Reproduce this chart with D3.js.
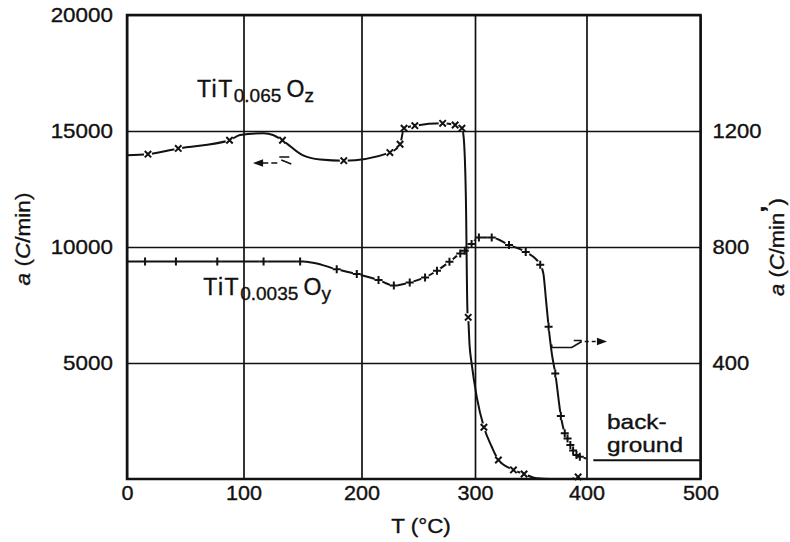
<!DOCTYPE html>
<html>
<head>
<meta charset="utf-8">
<script src="https://cdn.jsdelivr.net/npm/d3@7/dist/d3.min.js"></script>
<style>
  body { margin: 0; background: #fff; }
  svg { display: block; font-family: "Liberation Sans", Arial, Helvetica, sans-serif; }
  text { stroke: #111; stroke-width: 0.35px; }
</style>
</head>
<body>
<svg id="chart" width="790" height="542"></svg>
<script>
// ---- axis ticks ----
const tempTicks = [0, 100, 200, 300, 400, 500];          // T (°C)
const leftTicks = [5000, 10000, 15000, 20000];           // a (C/min), TiT0.065 Oz
const rightTicks = [400, 800, 1200];                      // a (C/min), TiT0.0035 Oy

// ---- TiT0.065 Oz : measured points (×), left axis ----
const ozT = [18, 44, 88, 133, 185, 225, 234, 237.5, 247, 271.5, 282.5, 288.5, 294, 308, 321, 334.5, 344, 392.5];
const ozA = [14000, 14250, 14600, 14600, 13720, 14070, 14430, 15120, 15230, 15330, 15260, 15120, 6970, 2230, 820, 390, 215, 90];

// hand-drawn trend through the Oz points
const ozLineT = [0, 18, 44, 88, 97, 117, 125, 133, 150, 165, 185, 225, 234, 237.5, 247, 271.5, 282.5, 288.5, 290, 292, 293.4, 294, 295.2, 297, 301.5, 308, 315, 321, 334.5, 344, 355.5, 367.5, 385, 392.5];
const ozLineA = [13960, 14000, 14250, 14600, 14830, 14900, 14830, 14600, 13960, 13770, 13720, 14070, 14430, 15120, 15230, 15330, 15260, 15120, 14740, 12030, 7160, 6970, 5780, 4990, 3550, 2230, 1390, 820, 390, 215, 30, 0, 0, 90];

// ---- TiT0.0035 Oy : measured points (+), right axis ----
const oyT = [15.5, 42, 77.5, 117, 148, 179, 196, 215, 228.5, 242.5, 256, 266.5, 277.5, 287, 291, 297, 303.5, 315, 330.5, 345.5, 358.5, 366, 372, 377, 380.5, 383, 385.5, 388, 391, 394];
const oyA = [750, 750, 750, 750, 750, 723, 707, 686, 667, 678, 695, 718, 749, 778, 787, 810, 833, 833, 807, 783, 739, 525, 364, 217, 158, 140, 117, 98, 83, 77];

// hand-drawn trend through the Oy points
const oyLineT = [0, 15.5, 42, 77.5, 117, 148, 160, 179, 196, 215, 228.5, 242.5, 256, 266.5, 277.5, 287, 291, 297, 303.5, 315, 330.5, 345.5, 358.5, 361.3, 363.7, 366, 369, 372, 377, 380.5, 383, 385.5, 388, 391, 394, 400];
const oyLineA = [750, 750, 750, 750, 750, 750, 745, 723, 707, 686, 667, 678, 695, 718, 749, 778, 787, 810, 833, 833, 807, 783, 739, 709, 617, 525, 430, 364, 217, 158, 140, 117, 98, 83, 77, 71];

// background count rate (right axis)
const bgT = [406, 500];
const bgA = [65, 65];

// ---- layout ----
const svg = d3.select("#chart");
const L = 127, R = 700.5, T = 15, B = 479;
const ink = "#111";

// the printed temperature grid is not perfectly even, so the scale follows it piecewise
const x = d3.scaleLinear().domain(tempTicks).range([L, 243.5, 361.5, 475, 586.5, R]);
const yL = d3.scaleLinear().domain([0, 20000]).range([B, T]);
const yR = d3.scaleLinear().domain([0, 1600]).range([B, T]);

function styleAxis(g, sx) {
  g.attr("font-family", null).attr("font-size", null);
  g.select(".domain").remove();
  g.selectAll(".tick line").attr("stroke", ink).attr("stroke-width", 1.7);
  g.selectAll(".tick text").attr("fill", ink).attr("font-size", 20)
    .attr("transform", `scale(${sx},1)`);
}

// vertical grid + T labels
svg.append("g").attr("transform", `translate(0,${B})`)
  .call(d3.axisBottom(x).tickValues(tempTicks).tickSize(-(B - T)).tickPadding(7).tickFormat(d3.format("d")))
  .call(g => styleAxis(g, 1.08));

// horizontal grid + left labels
svg.append("g").attr("transform", `translate(${L},0)`)
  .call(d3.axisLeft(yL).tickValues(leftTicks).tickSize(-(R - L)).tickPadding(12.6).tickFormat(d3.format("d")))
  .call(g => styleAxis(g, 1.12));

// right labels
svg.append("g").attr("transform", `translate(${R},0)`)
  .call(d3.axisRight(yR).tickValues(rightTicks).tickSize(0).tickPadding(11).tickFormat(d3.format("d")))
  .call(g => styleAxis(g, 1.1));

// frame
svg.append("rect").attr("x", L).attr("y", T).attr("width", R - L).attr("height", B - T)
  .attr("fill", "none").attr("stroke", ink).attr("stroke-width", 2.5);

// ---- series ----
const defs = svg.append("defs");
function gapMask(id, pts) {
  const m = defs.append("mask").attr("id", id).attr("maskUnits", "userSpaceOnUse")
    .attr("x", 0).attr("y", 0).attr("width", 790).attr("height", 542);
  m.append("rect").attr("width", 790).attr("height", 542).attr("fill", "#fff");
  m.selectAll("circle").data(pts).join("circle")
    .attr("cx", d => d[0]).attr("cy", d => d[1]).attr("r", 4).attr("fill", "#000");
}

function drawSeries(id, lt, la, mt, ma, ys, glyph) {
  const linePts = lt.map((t, i) => [x(t), ys(la[i])]);
  const markPts = mt.map((t, i) => [x(t), ys(ma[i])]);
  gapMask(id, markPts);
  svg.append("path")
    .attr("d", d3.line().curve(d3.curveMonotoneX)(linePts))
    .attr("fill", "none").attr("stroke", ink).attr("stroke-width", 2)
    .attr("mask", `url(#${id})`);
  svg.append("g").selectAll("path").data(markPts).join("path")
    .attr("transform", d => `translate(${d[0]},${d[1]})`)
    .attr("d", glyph)
    .attr("stroke", ink).attr("stroke-width", 2).attr("fill", "none");
}

drawSeries("gapOz", ozLineT, ozLineA, ozT, ozA, yL, "M-3.2,-3.2L3.2,3.2M-3.2,3.2L3.2,-3.2");
drawSeries("gapOy", oyLineT, oyLineA, oyT, oyA, yR, "M-4,0H4M0,-4V4");

// background level
svg.append("path")
  .attr("d", d3.line()(bgT.map((t, i) => [x(t), yR(bgA[i])])))
  .attr("stroke", ink).attr("stroke-width", 2).attr("fill", "none");

// ---- axis-direction arrows ----
// Oz refers to the left axis
{
  const px = x(110), py = yL(13620);
  const g = svg.append("g").attr("transform", `translate(${px},${py})`)
    .attr("stroke", ink).attr("fill", "none").attr("stroke-width", 1.6);
  g.append("path").attr("d", "M0,0L7,-2.6L7,2.6Z").attr("fill", ink);
  g.append("path").attr("d", "M7,0H22").attr("stroke-dasharray", "6,3");
  g.append("path").attr("d", "M24,-6H34M26,-3L36,1");
}
// Oy refers to the right axis
{
  const px = x(416), py = yR(474);
  const g = svg.append("g").attr("transform", `translate(${px},${py})`)
    .attr("stroke", ink).attr("fill", "none").attr("stroke-width", 1.6);
  g.append("path").attr("d", "M-53,3V6H-33L-23,0M-31,-1H-23");
  g.append("path").attr("d", "M-20,0H-7").attr("stroke-dasharray", "4,3");
  g.append("path").attr("d", "M0,0L-7,-2.6L-7,2.6Z").attr("fill", ink);
}

// ---- labels ----
function chemLabel(t, a, sub, el, elSub) {
  const tx = svg.append("text").attr("x", x(t)).attr("y", yL(a))
    .attr("fill", ink).attr("font-size", 23);
  tx.append("tspan").text("TiT").attr("letter-spacing", 1.5);
  tx.append("tspan").text(sub).attr("font-size", 19).attr("dy", 5);
  tx.append("tspan").text(" ").attr("font-size", 19);
  tx.append("tspan").text(el).attr("dy", -5);
  tx.append("tspan").text(elSub).attr("font-size", 19).attr("dy", 5);
}
chemLabel(60, 16480, "0.065", "O", "z");
chemLabel(65.5, 7930, "0.0035", "O", "y");

// background caption, two lines
[["back-", 172], ["ground", 93]].forEach(([s, a]) => {
  svg.append("text")
    .attr("transform", `translate(${x(418)},${yR(a)}) scale(1.22,1)`)
    .attr("fill", ink).attr("font-size", 20).text(s);
});

// axis titles
svg.append("text").attr("transform", "translate(421,533) scale(1.12,1)")
  .attr("text-anchor", "middle").attr("font-size", 20).attr("fill", ink).text("T (°C)");

function aTitle(tr, mark) {
  const t = svg.append("text").attr("transform", tr).attr("text-anchor", "middle")
    .attr("font-size", 20).attr("fill", ink);
  t.append("tspan").text("a").attr("font-style", "italic");
  t.append("tspan").text(" (");
  t.append("tspan").text("C").attr("font-style", "italic");
  t.append("tspan").text("/min");
  if (mark) t.append("tspan").text("’").attr("font-weight", "bold").attr("font-size", 24).attr("dy", -6);
  t.append("tspan").text(")").attr("dy", mark ? 6 : 0);
}
aTitle("translate(30,239) rotate(-90) scale(1.13,1)", false);
aTitle("translate(784,247) rotate(-90) scale(1.1,1)", true);
</script>
</body>
</html>
